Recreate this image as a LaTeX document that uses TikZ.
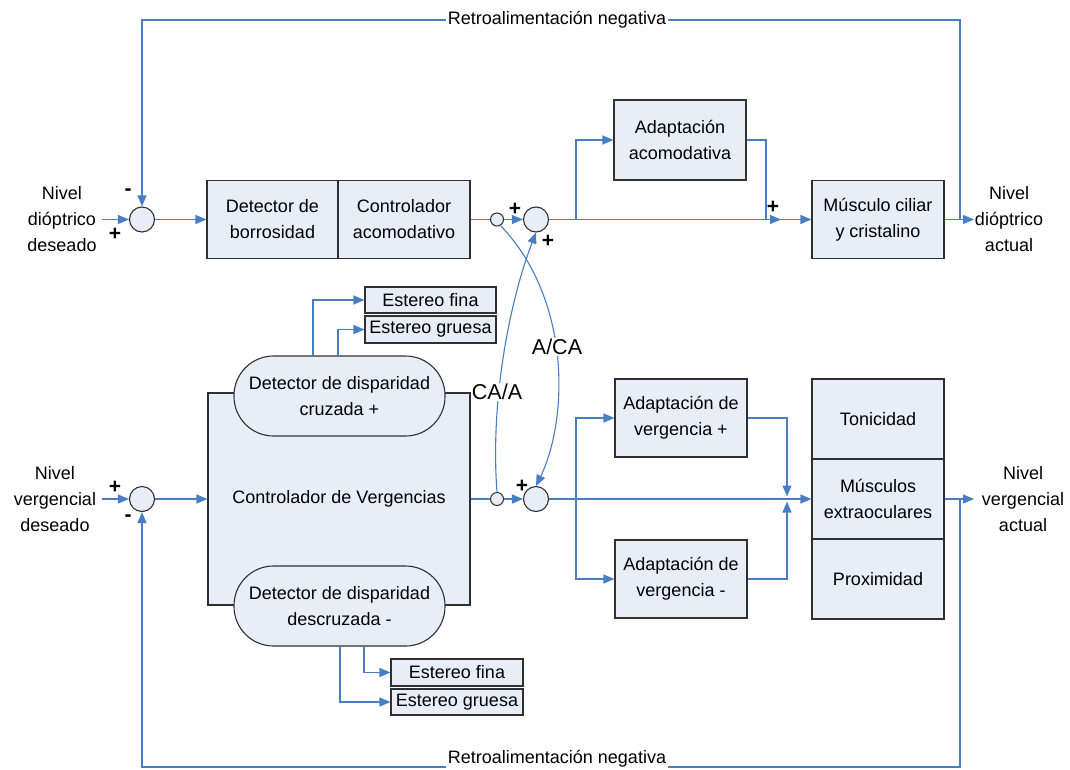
\documentclass[tikz,border=0pt]{standalone}
\usepackage{fontspec}
\setmainfont{Liberation Sans}
\usetikzlibrary{arrows.meta}
\definecolor{lnblue}{HTML}{4A7EC4}
\definecolor{boxfill}{HTML}{E8EEF8}
\definecolor{boxline}{HTML}{303030}
\begin{document}
\begin{tikzpicture}[x=1pt,y=-1pt,
  every node/.style={font=\fontsize{18}{26}\selectfont},
  blk/.style={draw=boxline, fill=boxfill, line width=1.1pt, align=center, inner sep=0pt},
  sumc/.style={circle, draw=boxline, fill=boxfill, line width=1.1pt, minimum size=25pt, inner sep=0pt},
  pick/.style={circle, draw=boxline, fill=boxfill, line width=1pt, minimum size=13pt, inner sep=0pt},
  wire/.style={draw=lnblue, line width=1.1pt},
  arr/.style={wire, -{Triangle[length=11pt,width=9pt]}},
  sgn/.style={font=\fontsize{21}{22}\selectfont\bfseries, inner sep=0pt},
  lbl/.style={align=center, inner sep=0pt},
  fbl/.style={fill=white, inner sep=1.5pt},
  ratio/.style={fill=white, inner sep=1pt, font=\fontsize{21.5}{24}\selectfont},
]
\fill[white] (0,0) rectangle (1070,769);
\useasboundingbox (0,0) rectangle (1070,769);

% ---------- top (accommodation) loop ----------
\node[sumc] (s1) at (142,219.5) {};
\node[blk, minimum width=131pt, minimum height=78pt] (det) at (272.5,219.5) {Detector de\\borrosidad};
\node[blk, minimum width=132pt, minimum height=78pt] (ctl) at (404,219.5) {Controlador\\acomodativo};
\node[pick] (pT) at (497,219.5) {};
\node[sumc] (s2) at (536,219.5) {};
\node[blk, minimum width=132pt, minimum height=80pt] (adapA) at (680,140) {Adaptación\\acomodativa};
\node[blk, minimum width=132pt, minimum height=78pt] (musc) at (878,219.5) {Músculo ciliar\\y cristalino};

\node[lbl] (inT) at (62,219.5) {Nivel\\dióptrico\\deseado};
\node[lbl] (outT) at (1009,219.5) {Nivel\\dióptrico\\actual};

\coordinate (inTs) at (102,219.5);
\coordinate (outTe) at (974,219.5);
\coordinate (fbT) at (960,219.5);
\coordinate (brT) at (576,219.5);
\coordinate (mAk) at (766,219.5);
\coordinate (mA) at (781,219.5);

\draw[arr] (inTs) -- (s1.west);
\draw[arr] (s1.east) -- (det.west);
\draw[wire] (ctl.east) -- (pT.west);
\draw[arr] (pT.east) -- (s2.west);
\draw[arr] (s2.east) -- (musc.west);
\draw[arr] (brT) |- (adapA.west);
\draw[wire] (adapA.east) -| (mAk);
\draw[arr] (mAk) -- (mA);
\draw[arr] (musc.east) -- (outTe);
\draw[arr] (fbT) -- (960,20) -| (s1.north);
\node[fbl] (fbTl) at (557,20) {Retroalimentación negativa};

\node[sgn] (sg1) at (128,192) {-};
\node[sgn] (sg2) at (115,234) {+};
\node[sgn] (sg3) at (515,209) {+};
\node[sgn] (sg4) at (548,241) {+};
\node[sgn] (sg5) at (773,207) {+};

% ---------- bottom (vergence) loop ----------
\node[sumc] (s3) at (142,499) {};
\node[blk, minimum width=262pt, minimum height=212pt] (big) at (339,499) {Controlador de Vergencias};
\node[blk, rounded corners=39.5pt, minimum width=211pt, minimum height=80pt] (dcz) at (339.5,396) {Detector de disparidad\\cruzada +};
\node[blk, rounded corners=39.5pt, minimum width=211pt, minimum height=80pt] (dcd) at (339.5,606) {Detector de disparidad\\descruzada -};
\node[blk, minimum width=131pt, minimum height=26pt] (eFT) at (430.5,300) {Estereo fina};
\node[blk, minimum width=131pt, minimum height=27pt] (eGT) at (430.5,329.5) {Estereo gruesa};
\node[blk, minimum width=132pt, minimum height=27pt] (eFB) at (457,672.5) {Estereo fina};
\node[blk, minimum width=132pt, minimum height=26pt] (eGB) at (457,702) {Estereo gruesa};
\node[pick] (pL) at (497,499) {};
\node[sumc] (s4) at (536,499) {};
\node[blk, minimum width=132pt, minimum height=78pt] (avp) at (681,418) {Adaptación de\\vergencia +};
\node[blk, minimum width=132pt, minimum height=78pt] (avm) at (681,579) {Adaptación de\\vergencia -};
\node[blk, minimum width=132pt, minimum height=80pt] (ton) at (878,419) {Tonicidad};
\node[blk, minimum width=132pt, minimum height=80pt] (mex) at (878,499) {Músculos\\extraoculares};
\node[blk, minimum width=132pt, minimum height=80pt] (prx) at (878,579) {Proximidad};

\node[lbl] (inL) at (55,499) {Nivel\\vergencial\\deseado};
\node[lbl] (outL) at (1023,499) {Nivel\\vergencial\\actual};

\coordinate (inLs) at (102,499);
\coordinate (outLe) at (974,499);
\coordinate (fbL) at (960,499);
\coordinate (brL) at (576,499);
\coordinate (mP) at (787,496.5);
\coordinate (mM) at (787,501.5);

\draw[arr] (inLs) -- (s3.west);
\draw[arr] (s3.east) -- (big.west);
\draw[wire] (big.east) -- (pL.west);
\draw[arr] (pL.east) -- (s4.west);
\draw[arr] (s4.east) -- (mex.west);
\draw[arr] (brL) |- (avp.west);
\draw[arr] (brL) |- (avm.west);
\draw[arr] (avp.east) -| (mP);
\draw[arr] (avm.east) -| (mM);
\draw[arr] (mex.east) -- (outLe);
\draw[arr] (fbL) -- (960,767) -| (s3.south);
\node[fbl, anchor=south] (fbLl) at (557,769) {Retroalimentación negativa};

\draw[arr] ([xshift=-26.5pt]dcz.north) |- (eFT.west);
\draw[arr] ([xshift=-1.5pt]dcz.north) |- (eGT.west);
\draw[arr] ([xshift=24.5pt]dcd.south) |- (eFB.west);
\draw[arr] ([xshift=0.5pt]dcd.south) |- (eGB.west);

\node[sgn] (sg6) at (115,487) {+};
\node[sgn] (sg7) at (128,518) {-};
\node[sgn] (sg8) at (522,486) {+};

% ---------- cross couplings ----------
\draw[arr] (pL.north) .. controls (490,400) and (510,300) .. (s2.south);
\draw[arr] (pT.-60) .. controls (572,300) and (568,420) .. (s4.north);
\node[ratio] (lca) at (497,392) {CA/A};
\node[ratio] (lac) at (557,347) {A/CA};
\end{tikzpicture}
\end{document}
